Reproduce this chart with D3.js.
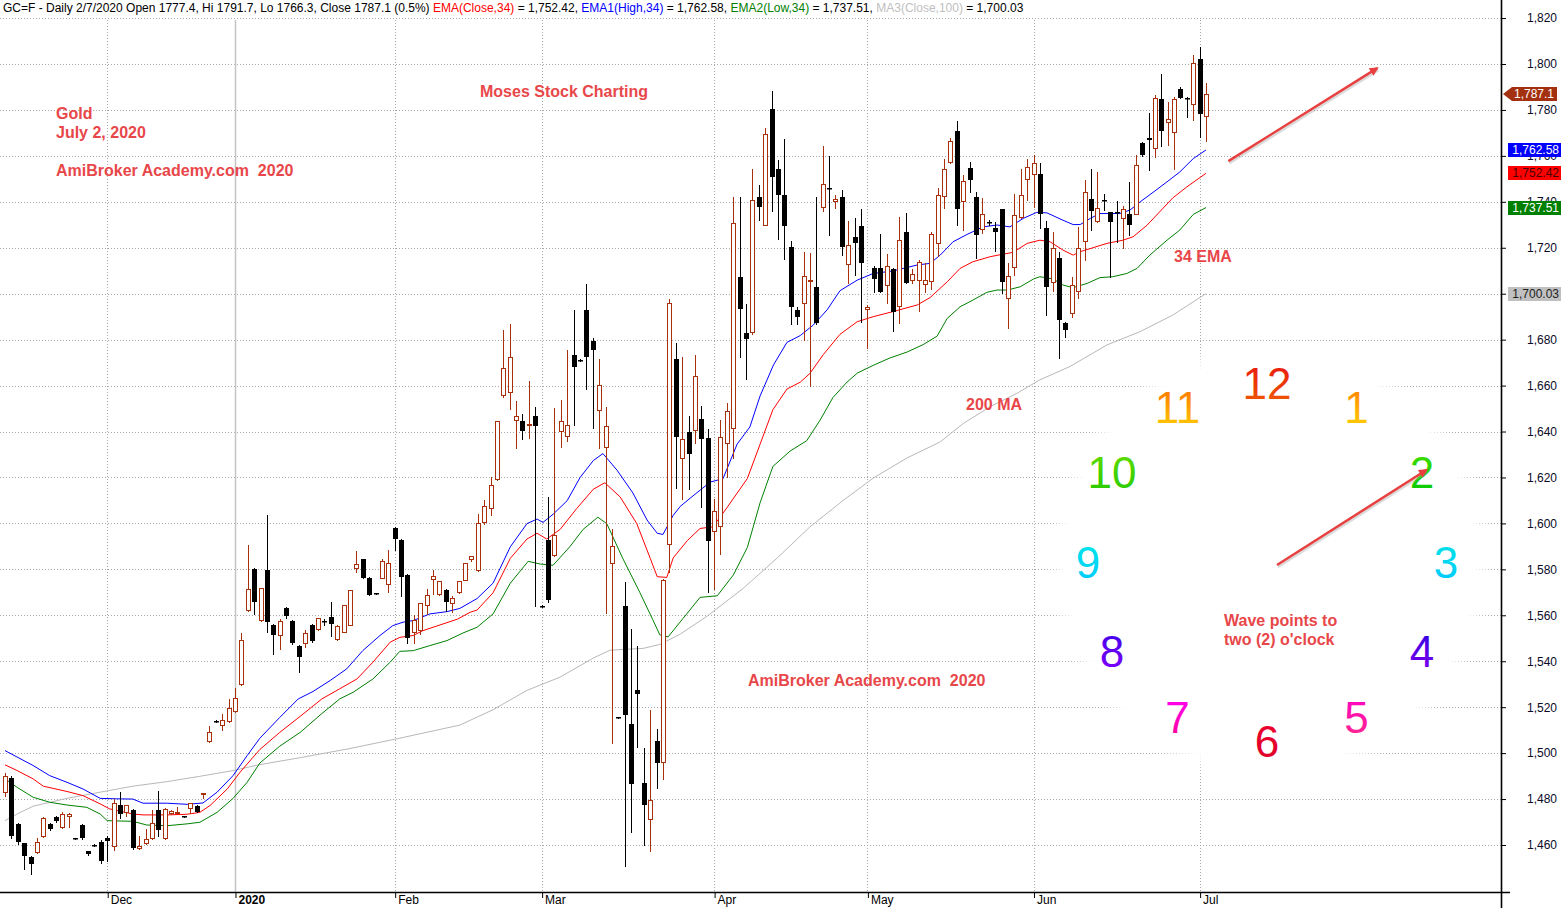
<!DOCTYPE html>
<html><head><meta charset="utf-8">
<script src="https://cdn.jsdelivr.net/npm/d3@7"></script>
<style>
body{margin:0;background:#fff;}
svg{display:block;font-family:Arial,"Liberation Sans",sans-serif;}
</style>
</head><body>
<svg id="chart" width="1561" height="908"></svg>
<script>
// ---------- DATA ----------
const opens = [
1483.0,1489.2,1469.2,1460.9,1454.6,1456.8,1463.8,1469.2,1472.1,1467.7,
1472.5,1463.0,1468.7,1457.3,1460.1,1461.2,1463.1,1459.7,1477.4,1474.5,
1475.3,1458.6,1460.7,1462.9,1475.3,1462.9,1473.8,1474.4,1472.6,1476.0,
1477.0,1482.4,1505.2,1514.0,1512.4,1513.9,1518.3,1529.9,1562.5,1580.1,
1558.1,1579.7,1555.8,1551.4,1563.2,1557.5,1546.7,1547.8,1555.8,1553.9,
1557.3,1559.3,1549.6,1552.9,1555.9,1580.4,1584.3,1576.2,1569.7,1576.4,
1573.5,1598.0,1592.8,1577.5,1552.9,1553.5,1564.6,1575.7,1569.3,1571.0,
1565.2,1570.0,1575.5,1584.5,1579.7,1600.4,1606.5,1619.4,1655.8,1657.1,
1644.9,1644.4,1643.2,1646.6,1564.1,1592.9,1586.2,1640.2,1637.9,1673.3,
1671.2,1692.7,1679.6,1649.4,1633.2,1582.7,1515.7,1564.0,1512.6,1527.6,
1487.2,1471.3,1505.1,1496.0,1591.0,1671.6,1628.5,1639.8,1640.8,1645.5,
1637.2,1596.6,1598.8,1634.8,1641.7,1707.3,1682.8,1683.3,1742.1,1730.1,
1780.4,1754.2,1743.0,1720.3,1693.0,1696.0,1705.6,1703.1,1737.6,1746.0,
1740.3,1742.1,1712.9,1724.7,1729.6,1693.5,1711.3,1711.3,1703.8,1710.9,
1694.8,1727.0,1706.1,1705.9,1704.3,1705.5,1722.2,1742.6,1757.4,1770.9,
1740.4,1754.8,1742.2,1728.3,1731.2,1728.4,1736.7,1698.3,1711.7,1733.2,
1750.0,1752.2,1752.2,1728.8,1705.0,1715.4,1687.1,1691.4,1701.3,1723.0,
1741.4,1731.7,1741.0,1735.4,1735.6,1732.8,1734.9,1734.8,1765.8,1767.8,
1763.5,1784.9,1774.8,1770.4,1789.3,1785.2,1782.8,1802.3,1777.4];
const highs = [
1491.5,1490,1469.5,1461,1455,1462.9,1472,1469.5,1472.5,1474.2,
1474,1463.2,1469,1457.6,1460.3,1462,1464.1,1480.1,1483.2,1477.5,
1475.6,1464.1,1467.0,1475.1,1483.7,1476,1475.3,1476.4,1472.8,1478.5,
1477.4,1482.6,1511.7,1514.2,1517.1,1523.6,1528.3,1552.3,1590.6,1580.5,
1572,1603.8,1556,1558.4,1563.5,1557.8,1547,1553.6,1556.1,1559,
1558.4,1565.8,1555.7,1564.6,1571.2,1588.1,1584.6,1576.5,1569.9,1584.3,
1588.4,1598.3,1593.1,1577.8,1560.1,1565.5,1571.4,1579.7,1575.1,1571.3,
1568.5,1575.1,1582.9,1586,1604.1,1610.2,1620.4,1644.7,1684.0,1686.6,
1653.3,1647.8,1661.9,1650.6,1564.3,1611.5,1650.4,1653.8,1675.3,1692.8,
1671.4,1704.2,1680.8,1671.6,1650.8,1597.4,1515.9,1574.3,1553.9,1546.5,
1502.2,1518.9,1510.6,1576.0,1697.8,1678.7,1672.3,1646.8,1673.5,1651.0,
1641.3,1610.5,1645.0,1652.5,1742.1,1742.1,1695.6,1754.1,1747.3,1772.2,
1788.2,1758.3,1767.3,1723.0,1694.2,1718.2,1717.8,1742.2,1764.1,1759.8,
1742.8,1745.2,1731.7,1732.8,1736.7,1695,1711.9,1725.8,1717.4,1711.2,
1733.3,1735.2,1710.6,1714.5,1713.2,1726.7,1746.1,1758.6,1768.0,1775.2,
1751.6,1757.4,1744.3,1741.7,1732.0,1731.3,1737.0,1713.2,1743.6,1754.1,
1758.6,1760.3,1756.7,1731.7,1726.8,1718.3,1687.8,1707.4,1729.1,1749.4,
1754.5,1752.8,1743.6,1735.7,1740.4,1738,1748.7,1760.3,1766.1,1778.8,
1786.4,1795.8,1783.5,1785.7,1790.0,1785.5,1803.8,1807.4,1791.7];
const lows = [
1481.5,1463,1460.5,1449.6,1447.4,1456.5,1463.5,1466.5,1469.8,1467.5,
1467.7,1462.6,1462.6,1455.8,1459.7,1452,1453.2,1458,1471.6,1472.5,
1458.2,1458.3,1460.4,1462.6,1464.1,1462.6,1473.5,1474.2,1472.2,1474.1,
1474.2,1480.3,1505,1513.6,1510.2,1513.6,1518,1529.5,1562,1560.6,
1557.5,1552.6,1543.2,1545.4,1558.8,1547.7,1535.1,1546.1,1548.5,1553.6,
1555.9,1551.2,1549.3,1552.6,1555.6,1579,1576.1,1568.7,1569.3,1576.1,
1570.3,1588.6,1568.5,1548.0,1548.0,1552.0,1560.6,1569.3,1569.0,1561.9,
1561.3,1569.7,1575.2,1583.8,1579.5,1599.9,1603.7,1619.1,1654.9,1649.9,
1632.7,1636.6,1637.1,1564.0,1563.7,1566,1585.7,1633.2,1635.7,1642.7,
1670.8,1658.3,1641.6,1632.7,1561.0,1504.2,1515.3,1450.8,1465.8,1502.7,
1460.2,1457.5,1485.0,1488.9,1579.0,1615.5,1610.8,1615.0,1634.8,1607.1,
1570.3,1571.5,1586.5,1620.3,1628.5,1672.3,1662.7,1682.5,1732.0,1729.8,
1736.2,1723.8,1715.2,1686.6,1686.6,1680.0,1660.0,1686.9,1735.8,1725.7,
1737.1,1717.0,1704.6,1708.3,1687.8,1676.2,1700.9,1700.6,1695.9,1683.8,
1687.4,1704.5,1704.5,1692.6,1700.7,1702.2,1716.5,1737.5,1757.1,1729.9,
1727.7,1744.3,1715.4,1726.5,1729.8,1718.6,1700.4,1684.9,1708.1,1732.9,
1741.0,1737.8,1728.7,1690.7,1701.0,1672.2,1681.3,1690.0,1698.3,1714.6,
1727.7,1731.4,1736.4,1707.1,1722.3,1719.7,1725.5,1734.5,1760.0,1753.8,
1759.6,1764.3,1764.9,1754.5,1785.0,1777.0,1775.5,1768.1,1766.3];
const closes = [
1490.2,1464.1,1461.2,1455.4,1451.7,1461.5,1471.6,1467.0,1470.6,1473.5,
1473.5,1462.9,1462.9,1456.1,1460.0,1452.9,1461.9,1478.2,1473.5,1477.2,
1458.7,1459.7,1462.6,1469.6,1466.7,1475.7,1475.0,1474.5,1472.5,1478.2,
1474.5,1482.5,1509.1,1513.9,1514.5,1519.7,1523.9,1549.1,1571.4,1565.9,
1571.7,1557.2,1551.4,1557.4,1559.9,1548.0,1542.0,1552.2,1548.8,1558.7,
1557.2,1556.4,1555.4,1564.3,1570.9,1582.3,1576.4,1569.0,1569.6,1583.6,
1582.6,1593.3,1576.8,1550.1,1558.0,1565.2,1568.7,1577.2,1574.8,1565.7,
1567.4,1574.8,1582.6,1585.7,1600.0,1607.4,1616.6,1644.4,1667.8,1672.5,
1646.9,1640.2,1643.4,1642.4,1564.0,1566.5,1594.9,1644.6,1642.9,1668.0,
1671.1,1672.5,1675.5,1660.3,1642.6,1590.2,1515.6,1516.4,1486.4,1525.6,
1477.5,1479.4,1495.6,1575.5,1696.1,1637.8,1636.8,1630.3,1664.2,1636.8,
1592.2,1605.6,1637.5,1648.8,1730.8,1693.5,1680.3,1740.7,1737.7,1769.5,
1750.8,1743.0,1729.5,1694.2,1690.0,1707.7,1706.0,1687.3,1747.8,1745.6,
1741.3,1720.2,1721.2,1721.9,1713.5,1694.2,1706.4,1700.9,1712.2,1692.0,
1723.5,1704.8,1708.7,1713.9,1706.1,1726.1,1743.0,1754.3,1766.5,1737.0,
1749.1,1749.6,1725.5,1734.8,1730.8,1727.0,1705.1,1707.8,1734.3,1742.9,
1755.1,1757.1,1734.5,1703.0,1720.0,1688.5,1684.2,1703.8,1719.7,1744.3,
1735.9,1737.4,1740.8,1731.3,1735.4,1736.8,1729.9,1755.9,1760.3,1767.1,
1785.2,1770.9,1776.1,1784.9,1785.2,1784.6,1800.6,1778.3,1787.1];

// indicator lines: [bar index, value]
const emaHighLine = [[0,1501.1],[4.4,1494.6],[7,1490.2],[9.7,1487.3],[12.2,1484.4],[14.9,1480.3],[17.5,1480.1],[20,1480],[21.6,1478.2],[25.4,1478.2],[28.5,1477.7],[31,1478.3],[33.2,1483],[35.7,1490.2],[37.9,1498.9],[39.9,1506.5],[43,1515.5],[45.9,1523.6],[48.2,1526.8],[50.9,1531.6],[53.5,1536.7],[56,1544.6],[58.7,1551.2],[60.7,1555.5],[62.3,1557],[63.9,1557.7],[66.5,1560.6],[69.2,1561.6],[71.2,1563],[73.9,1567.3],[76.4,1574],[79.1,1589.8],[81.7,1599.9],[83.3,1601.9],[84.2,1600.4],[85.8,1604],[88,1609.9],[90,1619.9],[92.1,1627.4],[93.6,1630.4],[95.8,1623.2],[98.3,1613.2],[100.5,1601.5],[102.1,1595.7],[103,1595.2],[104.6,1603.5],[105.7,1607.4],[107.7,1612],[110.4,1618],[112.4,1619.5],[114.6,1634.5],[116.6,1642],[118.2,1655.5],[120.3,1669],[122.4,1678.8],[124.5,1681.8],[126.5,1686.3],[128.7,1693],[130.7,1701.3],[133.4,1705.9],[135.9,1708.8],[139,1709.9],[142.8,1712.5],[144.8,1713.2],[146.4,1716.8],[148.4,1722.6],[150.6,1725.8],[153.1,1729.1],[155.3,1729.9],[157.3,1729.1],[159.4,1732.8],[161.5,1735.4],[163.1,1735.2],[165.6,1732],[167.2,1730.1],[168.3,1730.1],[169.9,1732.8],[171.4,1734.9],[174.5,1734.9],[176.1,1736.4],[177.7,1740],[179.7,1744.1],[181.9,1748.7],[183.9,1753],[186,1758.8],[188,1762.58]];
const emaCloseLine = [[0,1494.9],[1.9,1492.4],[4.4,1488.8],[6,1485.6],[9.7,1483.3],[12.2,1481.5],[14.9,1477.9],[16.4,1475.7],[20,1473.5],[21.6,1473.1],[25.4,1473.1],[28.5,1473.4],[30.5,1474.2],[32.1,1477.2],[34.8,1484.4],[36.8,1491.7],[39.9,1501.6],[43,1509],[46.2,1516],[49.6,1523.6],[52.4,1528],[55.1,1532.3],[57.6,1539.6],[60.3,1548.3],[61.8,1550.4],[63.9,1551.2],[65.4,1553.3],[68.1,1555.8],[70.8,1558.3],[72.8,1561.3],[73.9,1562.3],[76.4,1569.8],[79.1,1584.8],[81.7,1593.2],[83.3,1595.7],[84.8,1593.2],[86.9,1597.4],[89.5,1606.5],[92.1,1614.9],[93.9,1617.7],[96.3,1611.5],[98.9,1599.9],[101,1584.8],[102.1,1576.8],[103.6,1576.5],[104.6,1585],[106.8,1592.5],[108.8,1597.8],[110.8,1598.5],[113,1606.8],[116.2,1619.5],[118.2,1634.5],[120.2,1649.5],[122.4,1658.5],[124.5,1661.5],[126,1665.3],[128.1,1673.5],[130.7,1682.3],[133.4,1687.8],[135.9,1690],[139,1692.2],[142.8,1695.1],[144.8,1698.3],[147.5,1705.2],[149.5,1711],[151.5,1713.9],[154.2,1716.1],[156.2,1717.2],[157.8,1718],[160,1721.9],[162,1723.3],[163.6,1722.6],[165.6,1719],[167.2,1716.8],[168.3,1718.3],[170.3,1720],[172.5,1721.9],[175,1723.3],[176.6,1724.8],[178.8,1729.9],[181,1736.4],[182.8,1741.7],[185,1746.5],[188,1752.42]];
const emaLowLine = [[0,1488.8],[1.9,1485.1],[4.4,1480.8],[7,1478.6],[9.7,1477.4],[12.8,1476.4],[14.9,1473.5],[16,1470.6],[20,1470.3],[22.2,1468.7],[25.4,1468.4],[28.5,1469.2],[30.5,1469.9],[33.2,1474.2],[35.7,1480.3],[37.9,1487.3],[39.9,1495.7],[43,1503],[46.2,1509],[49.5,1517],[52.4,1523.6],[54.5,1526.5],[57.6,1532.3],[60.3,1539.6],[61.8,1544.3],[63.9,1544.6],[66.5,1546.8],[69.2,1549],[71.7,1552.3],[73.9,1554.8],[76.4,1560.6],[79.1,1574],[81.9,1583.5],[83.8,1582.3],[85.8,1581.8],[88.4,1589.8],[90.5,1597.4],[92.8,1602.7],[94.2,1599.9],[96.7,1584.8],[99.4,1569.8],[101.4,1558.1],[102.5,1551.5],[103.8,1550.6],[106.1,1558.5],[108.8,1567.8],[111.5,1568.5],[114,1577.5],[116.2,1589.5],[118.2,1609],[120.2,1624.8],[122.9,1631.5],[125.5,1636],[127.6,1645],[129.6,1654.8],[131.8,1661.5],[133.4,1665.4],[135.9,1668.8],[138.5,1672],[141.2,1674.6],[143.7,1677.8],[145.9,1681.5],[147.5,1689.3],[149.5,1694.3],[151.5,1697.2],[153.7,1700.6],[155.3,1701.6],[156.9,1701.6],[158.9,1703],[161,1706.4],[162,1707.4],[164.1,1706.4],[165.6,1703.8],[167.2,1702.6],[169.4,1704.5],[171.4,1707],[173.4,1707.4],[175.6,1708.8],[177.2,1711],[179.2,1716.8],[181.9,1723.3],[183.9,1727.7],[186,1734.5],[188,1737.51]];
const ma100Line = [[0,1470.6],[1.9,1473.5],[4.4,1476.9],[9.7,1480.3],[14.9,1483],[20,1485.6],[25.4,1487.6],[30.5,1489.9],[35.7,1492.4],[39.9,1495],[46.2,1498],[54,1502],[61.8,1506.5],[71.2,1512.2],[76.4,1518.9],[81.7,1527.3],[86.9,1533.1],[92.1,1541.4],[94.7,1544.8],[99.9,1545.6],[102.5,1547.3],[105.7,1551.8],[109.9,1559.6],[115.5,1571.6],[120.9,1585],[126,1598.5],[131.2,1610],[135.9,1619.7],[141.2,1628.5],[146.4,1635.5],[150,1643.5],[154.2,1650.8],[158.4,1656.6],[162,1662.5],[166.7,1668.3],[172.5,1677.7],[177.7,1683.5],[182.8,1690.7],[188,1700.03]];

const priceTicks = [1460,1480,1500,1520,1540,1560,1580,1600,1620,1640,1660,1680,1700,1720,1740,1760,1780,1800,1820];
const monthLabels = ["Dec","2020","Feb","Mar","Apr","May","Jun","Jul"];
const monthBarIndex = [16,36,61,84,111,135,161,187];

const lastValues = [
  {v:1787.1, label:"1,787.1", bg:"#a3300e", fg:"#ffffff", arrow:true},
  {v:1762.58, label:"1,762.58", bg:"#0000ff", fg:"#ffffff"},
  {v:1752.42, label:"1,752.42", bg:"#ff0000", fg:"#4a0000"},
  {v:1737.51, label:"1,737.51", bg:"#008000", fg:"#ffffff"},
  {v:1700.03, label:"1,700.03", bg:"#c0c0c0", fg:"#202020"}
];
const clockNumbers = ["12","1","2","3","4","5","6","7","8","9","10","11"];
const clockTop    = ["#e81010","#ff7a00","#44dd00","#00e4e4","#2a00e0","#ff00c8","#ee0030","#ff00ff","#3a00e8","#00e8e8","#66dd00","#ff6a00"];
const clockBottom = ["#f06000","#ffd800","#00c800","#00c8ff","#8a00f0","#ff2a88","#dd0028","#ff0090","#8800ff","#00c8ff","#22c800","#ffd400"];
const annotations = [
  {t:"Gold", x:56, y:119},
  {t:"July 2, 2020", x:56, y:138},
  {t:"AmiBroker Academy.com  2020", x:56, y:176},
  {t:"Moses Stock Charting", x:480, y:97},
  {t:"34 EMA", x:1174, y:262},
  {t:"200 MA", x:966, y:410},
  {t:"AmiBroker Academy.com  2020", x:748, y:686},
  {t:"Wave points to", x:1224, y:626},
  {t:"two (2) o'clock", x:1224, y:645}
];
// trend arrow, in data units (bar index, price)
const trendArrow = [[191.5,1757.7],[214.8,1798.2]];

// ---------- SCALES ----------
const svg = d3.select("#chart");
const plotRight = 1501, axisY = 892;
const x = d3.scaleLinear().domain([0,188]).range([5,1206]);
const y = d3.scaleLinear().domain([1460,1800]).range([845,64]);
const px = v => Math.round(v) + 0.5;

const defs = svg.append("defs");

// ---------- GRID ----------
const grid = svg.append("g");
grid.selectAll("line.h").data(priceTicks).join("line")
  .attr("x1",0).attr("x2",plotRight)
  .attr("y1",d=>px(y(d))).attr("y2",d=>px(y(d)))
  .attr("stroke","#a8a8a8").attr("stroke-dasharray","1,2");
grid.selectAll("line.v").data(monthBarIndex).join("line")
  .attr("x1",d=>px(x(d))).attr("x2",d=>px(x(d)))
  .attr("y1",20).attr("y2",axisY)
  .attr("stroke",(d,k)=>monthLabels[k]==="2020"?"#c4c4c4":"#a8a8a8")
  .attr("stroke-width",(d,k)=>monthLabels[k]==="2020"?1.5:1)
  .attr("stroke-dasharray",(d,k)=>monthLabels[k]==="2020"?null:"1,2");

// ---------- CLOCK GLOW ----------
const cx = 1267, cy = 562, cr = 179;
const rg = defs.append("radialGradient").attr("id","glow");
rg.append("stop").attr("offset","0%").attr("stop-color","#fff").attr("stop-opacity",1);
rg.append("stop").attr("offset","90%").attr("stop-color","#fff").attr("stop-opacity",1);
rg.append("stop").attr("offset","100%").attr("stop-color","#fff").attr("stop-opacity",0);
svg.append("circle").attr("cx",cx+3).attr("cy",cy).attr("r",225).attr("fill","url(#glow)");

// ---------- INDICATOR LINES ----------
const line = d3.line().x(d=>x(d[0])).y(d=>y(d[1]));
const lines = svg.append("g").attr("fill","none").attr("stroke-width",1);
lines.append("path").attr("d",line(ma100Line)).attr("stroke","#b8b8b8");
lines.append("path").attr("d",line(emaLowLine)).attr("stroke","#008000");
lines.append("path").attr("d",line(emaCloseLine)).attr("stroke","#ff0000");
lines.append("path").attr("d",line(emaHighLine)).attr("stroke","#0000ff");

// ---------- CANDLES ----------
const upColor = "#a8300a";
const bars = opens.map((o,i)=>({i,o,h:highs[i],l:lows[i],c:closes[i]}));
const cg = svg.append("g");
const cand = cg.selectAll("g").data(bars).join("g");
cand.append("line")
  .attr("x1",d=>px(x(d.i))).attr("x2",d=>px(x(d.i)))
  .attr("y1",d=>Math.round(y(d.h))).attr("y2",d=>Math.round(y(d.l))+1)
  .attr("stroke",d=>d.c>=d.o?upColor:"#000").attr("stroke-width",1);
cand.filter(d=>d.c>=d.o).append("rect")
  .attr("x",d=>Math.round(x(d.i))-2+0.5)
  .attr("y",d=>Math.round(y(d.c))+0.5)
  .attr("width",4)
  .attr("height",d=>Math.max(Math.round(y(d.o))-Math.round(y(d.c)),1))
  .attr("fill","#fff").attr("stroke",upColor).attr("stroke-width",1);
cand.filter(d=>d.c<d.o).append("rect")
  .attr("x",d=>Math.round(x(d.i))-2)
  .attr("y",d=>Math.round(y(d.o)))
  .attr("width",5)
  .attr("height",d=>Math.max(Math.round(y(d.c))-Math.round(y(d.o)),1.5))
  .attr("fill","#000");

// ---------- AXES ----------
// a tick label fully hidden behind a last-value box is not drawn (as in the reference)
const hidden = t => lastValues.some(b => Math.abs(y(b.v) - y(t)) < 2);
const yAxis = d3.axisRight(y).tickValues(priceTicks)
  .tickFormat(t => hidden(t) ? "" : d3.format(",")(t)).tickSize(5).tickPadding(3);
const ya = svg.append("g").attr("transform",`translate(${plotRight},0)`).call(yAxis);
ya.select(".domain").remove();
ya.selectAll(".tick line").attr("stroke","#000");
ya.selectAll(".tick text").attr("x",56).attr("text-anchor","end")
  .attr("font-size",12).attr("font-family","Arial, 'Liberation Sans', sans-serif").attr("fill","#0a0a28");

const xAxis = d3.axisBottom(x).tickValues(monthBarIndex).tickFormat((d,k)=>monthLabels[k]).tickSize(6);
const xa = svg.append("g").attr("transform",`translate(0,${axisY})`).call(xAxis);
xa.select(".domain").remove();
xa.selectAll(".tick line").attr("stroke","#000").attr("transform","translate(0.5,0)");
xa.selectAll(".tick text").attr("x",3).attr("y",3).attr("dy","0.71em").attr("text-anchor","start")
  .attr("font-size",12).attr("font-family","Arial, 'Liberation Sans', sans-serif").attr("fill","#000")
  .attr("font-weight",(d,k)=>monthLabels[k]==="2020"?"bold":null);

svg.append("line").attr("x1",0).attr("x2",1510).attr("y1",axisY+0.5).attr("y2",axisY+0.5)
  .attr("stroke","#000").attr("stroke-width",1.6);
svg.append("line").attr("x1",plotRight+0.5).attr("x2",plotRight+0.5).attr("y1",0).attr("y2",908)
  .attr("stroke","#000").attr("stroke-width",1.6);

// ---------- LAST VALUE BOXES ----------
const lv = svg.append("g").selectAll("g").data(lastValues).join("g")
  .attr("transform",d=>`translate(0,${Math.round(y(d.v))})`);
lv.append("path")
  .attr("d",d=>d.arrow ? "M1503,0 L1512,-7 L1557,-7 L1557,7 L1512,7 Z" : "M1508,-7 L1561,-7 L1561,7 L1508,7 Z")
  .attr("fill",d=>d.bg);
lv.append("text")
  .attr("x",d=>d.arrow?1554:1559).attr("y",0).attr("dy","0.36em").attr("text-anchor","end")
  .attr("font-size",12).attr("fill",d=>d.fg).text(d=>d.label);

// ---------- HEADER ----------
const header = svg.append("text").attr("x",3).attr("y",12).attr("font-size",12)
  .style("white-space","pre").attr("fill","#000");
[["GC=F - Daily 2/7/2020 Open 1777.4, Hi 1791.7, Lo 1766.3, Close 1787.1 (0.5%) ","#000"],
 ["EMA(Close,34)","#ff0000"],[" = 1,752.42, ","#000"],
 ["EMA1(High,34)","#0000ff"],[" = 1,762.58, ","#000"],
 ["EMA2(Low,34)","#008000"],[" = 1,737.51, ","#000"],
 ["MA3(Close,100)","#c0c0c0"],[" = 1,700.03","#000"]]
 .forEach(s=>header.append("tspan").attr("fill",s[1]).text(s[0]));

// ---------- ANNOTATIONS ----------
svg.append("g").selectAll("text").data(annotations).join("text")
  .attr("x",d=>d.x).attr("y",d=>d.y).attr("font-size",16).attr("font-weight","bold")
  .style("white-space","pre")
  .attr("fill","#e8474a").text(d=>d.t);

// arrow marker
defs.append("marker").attr("id","ah").attr("viewBox","0 0 10 10").attr("refX",8).attr("refY",5)
  .attr("markerWidth",11).attr("markerHeight",9).attr("markerUnits","userSpaceOnUse").attr("orient","auto")
  .append("path").attr("d","M0,0 L10,5 L0,10 Z").attr("fill","#e84040");

function drawArrow(x1,y1,x2,y2){
  svg.append("line").attr("x1",x1+1).attr("y1",y1+2).attr("x2",x2+1).attr("y2",y2+2)
    .attr("stroke","#999").attr("stroke-opacity",0.35).attr("stroke-width",2.5);
  svg.append("line").attr("x1",x1).attr("y1",y1).attr("x2",x2).attr("y2",y2)
    .attr("stroke","#e84040").attr("stroke-width",2.5).attr("marker-end","url(#ah)");
}
drawArrow(x(trendArrow[0][0]),y(trendArrow[0][1]),x(trendArrow[1][0]),y(trendArrow[1][1]));

// ---------- CLOCK ----------
clockNumbers.forEach((n,k)=>{
  const g = defs.append("linearGradient").attr("id","cg"+k).attr("x1",0).attr("y1",0).attr("x2",0).attr("y2",1);
  g.append("stop").attr("offset","0%").attr("stop-color",clockTop[k]);
  g.append("stop").attr("offset","100%").attr("stop-color",clockBottom[k]);
});
svg.append("g").selectAll("text").data(clockNumbers).join("text")
  .attr("x",(d,k)=>cx + cr*Math.sin(k*Math.PI/6))
  .attr("y",(d,k)=>cy - cr*Math.cos(k*Math.PI/6))
  .attr("dy","0.36em").attr("text-anchor","middle").attr("font-size",44)
  .attr("fill",(d,k)=>`url(#cg${k})`).text(d=>d);
const a2 = 2*Math.PI/6;
drawArrow(cx+10, cy+3, cx + (cr+5)*Math.sin(a2), cy - (cr+5)*Math.cos(a2));
</script>
</body></html>
